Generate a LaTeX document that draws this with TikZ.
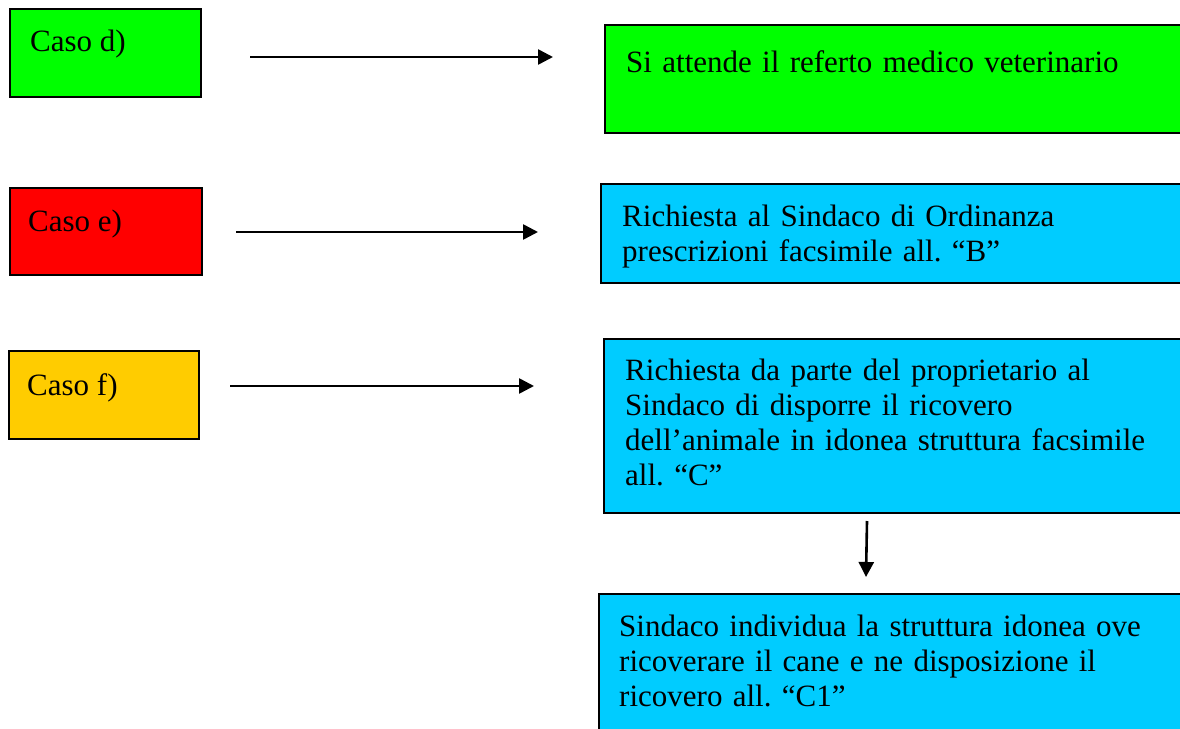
\documentclass[tikz,border=0pt]{standalone}
\usepackage{fontspec}
\setmainfont{Liberation Serif}
\usetikzlibrary{arrows.meta}
\frenchspacing

\definecolor{casoD}{HTML}{00FF00}
\definecolor{casoE}{HTML}{FF0000}
\definecolor{casoF}{HTML}{FFCC00}
\definecolor{azzurro}{HTML}{00CCFF}

\tikzset{
  box/.style={draw=black,line width=1.8pt,anchor=north west,inner sep=0pt},
  txt/.style={anchor=base west,inner sep=0pt,align=left,
    font=\fontsize{31}{35}\selectfont},
  flow/.style={line width=2.6pt,-{Triangle[length=15pt,width=15pt]}}
}

\begin{document}
\begin{tikzpicture}[x=1pt,y=-1pt]
\useasboundingbox (0,0) rectangle (1180,728);
\clip (0,0) rectangle (1180,728);

% casi a sinistra
\node[box,fill=casoD,minimum width=191pt,minimum height=88pt] (d) at (9,8) {};
\node[box,fill=casoE,minimum width=192pt,minimum height=87pt] (e) at (9,187) {};
\node[box,fill=casoF,minimum width=190pt,minimum height=88pt] (f) at (8,350) {};
\node[txt] (dt) at (30,51) {Caso d)};
\node[txt] (et) at (28,231) {Caso e)};
\node[txt] (ft) at (27,395) {Caso f)};

% esiti a destra
\node[box,fill=casoD,minimum width=620pt,minimum height=108pt] (d1) at (604,24) {};
\node[box,fill=azzurro,minimum width=624pt,minimum height=99pt] (e1) at (600,183) {};
\node[box,fill=azzurro,minimum width=621pt,minimum height=174pt] (f1) at (603,338) {};
\node[box,fill=azzurro,minimum width=626pt,minimum height=160pt] (f2) at (598,593) {};

\node[txt,text width=540pt] (d1t) at (626,72) {Si attende il referto medico veterinario};
\node[txt,text width=540pt] (e1t) at (622,226) {Richiesta al Sindaco di Ordinanza\\prescrizioni facsimile all. “B”};
\node[txt,text width=540pt] (f1t) at (625,380) {Richiesta da parte del proprietario al\\Sindaco di disporre il ricovero\\dell’animale in idonea struttura facsimile\\all. “C”};
\node[txt,text width=540pt] (f2t) at (619,636) {Sindaco individua la struttura idonea ove\\ricoverare il cane e ne disposizione il\\ricovero all. “C1”};

% frecce
\coordinate (ad) at (250,57);  \coordinate (bd) at (553,57);
\coordinate (ae) at (236,232); \coordinate (be) at (538,232);
\coordinate (af) at (230,386); \coordinate (bf) at (534,386);
\coordinate (ag) at (867,521); \coordinate (bg) at (866,577);
\draw[flow] (ad) -- (bd);
\draw[flow] (ae) -- (be);
\draw[flow] (af) -- (bf);
\draw[flow] (ag) -- (bg);
\end{tikzpicture}
\end{document}
